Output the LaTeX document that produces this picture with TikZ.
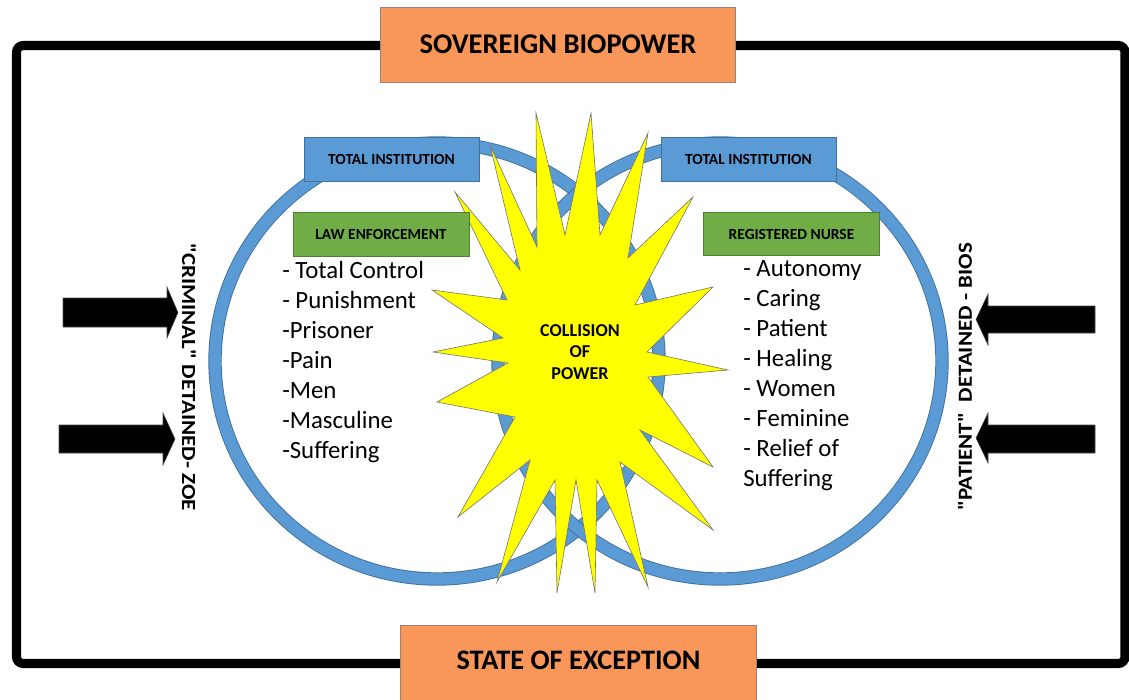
\documentclass[tikz,border=0pt]{standalone}
\usepackage{fontspec}
\setmainfont{Carlito}
\newfontfamily\plaincarlito{Carlito}[FakeStretch=1.15]
\definecolor{ringblue}{HTML}{5B9BD5}
\definecolor{ringedge}{HTML}{41719C}
\definecolor{lawgreen}{HTML}{70AD47}
\definecolor{greenedge}{HTML}{507E32}
\definecolor{orangefill}{HTML}{F9975A}
\definecolor{orangeedge}{HTML}{A08070}
\definecolor{staryellow}{HTML}{FFFF00}
\tikzset{
  ring/.style={draw=ringedge, line width=0.7pt, double=ringblue, double distance=8.6pt},
  frame/.style={draw=black, line width=6.8pt, rounded corners=5pt},
  titlebox/.style={draw=orangeedge, fill=orangefill, line width=0.6pt, inner sep=0pt,
    minimum width=266.5pt, font=\fontsize{21.4}{25}\selectfont\bfseries},
  tibox/.style={draw=ringedge, fill=ringblue, line width=0.7pt, inner sep=0pt,
    minimum width=131.25pt, minimum height=33pt, font=\fontsize{11.6}{13}\selectfont\bfseries},
  rolebox/.style={draw=greenedge, fill=lawgreen, line width=0.7pt, inner sep=0pt,
    minimum width=132pt, minimum height=32.5pt, font=\fontsize{11.6}{13}\selectfont\bfseries},
  listitem/.style={anchor=base west, inner sep=0pt, font=\fontsize{18.6}{22}\selectfont},
  sidelabel/.style={inner sep=0pt, font=\plaincarlito\fontsize{15}{18}\selectfont\bfseries},
  burst/.style={fill=staryellow, draw=black!55, line width=0.45pt},
  blockarrow/.style={fill=black, draw=black!70, line width=0.4pt},
}
\begin{document}
\begin{tikzpicture}[x=0.75pt,y=-0.75pt]
\useasboundingbox (0,0) rectangle (1129,700);
\fill[white] (0,0) rectangle (1129,700);

% outer frame
\draw[frame] (16.5,45.5) rectangle (1125,663.5);

% rings
\draw[ring] (437,361) ellipse [x radius=166.5pt, y radius=163.5pt];
\draw[ring] (720,361) ellipse [x radius=166.5pt, y radius=163.5pt];

% collision starburst
\filldraw[burst] (536,113) -- (565,235) -- (591,113) -- (600,235) -- (648,133) -- (628,258)
  -- (693,197) -- (635,305) -- (713,287) -- (647,352) -- (728,370) -- (648,377)
  -- (713,467) -- (640,430) -- (713,530) -- (620,462) -- (648,587) -- (597,480)
  -- (595,593) -- (576,480) -- (557,593) -- (555,480) -- (497,582) -- (530,460)
  -- (458,517) -- (515,417) -- (437,402) -- (508,363) -- (433,352) -- (503,338)
  -- (432,290) -- (507,300) -- (455,192) -- (520,270) -- (490,145) -- (537,247) -- cycle;
\node[inner sep=0pt, align=center, font=\fontsize{13.6}{16.3}\selectfont\bfseries] (collision)
  at (580,352) {COLLISION\\OF\\POWER};

% title boxes
\node[titlebox, minimum height=56.25pt] (sovereign) at (558,44.5) {SOVEREIGN BIOPOWER};
\node[titlebox, minimum height=66pt] (exception) at (578.5,669) {};
\node[inner sep=0pt, font=\fontsize{21.2}{25}\selectfont\bfseries] (exceptiontext)
  at (578.5,660.5) {STATE OF EXCEPTION};

% institution boxes
\node[tibox] (tileft) at (391.5,159) {TOTAL INSTITUTION};
\node[tibox] (tiright) at (748.5,159) {TOTAL INSTITUTION};
\node[rolebox] (law) at (381,234.5) {LAW ENFORCEMENT};
\node[rolebox] (nurse) at (791.5,234) {REGISTERED NURSE};

% left list
\node[listitem] (l1) at (282,278.5) {- Total Control};
\node[listitem] (l2) at (282,308.5) {- Punishment};
\node[listitem] (l3) at (282,338.5) {-Prisoner};
\node[listitem] (l4) at (282,368.5) {-Pain};
\node[listitem] (l5) at (282,398.5) {-Men};
\node[listitem] (l6) at (282,428.5) {-Masculine};
\node[listitem] (l7) at (282,458) {-Suffering};

% right list
\node[listitem] (r1) at (743,276) {- Autonomy};
\node[listitem] (r2) at (743,306) {- Caring};
\node[listitem] (r3) at (743,336) {- Patient};
\node[listitem] (r4) at (743,366) {- Healing};
\node[listitem] (r5) at (743,396) {- Women};
\node[listitem] (r6) at (743,426) {- Feminine};
\node[listitem] (r7) at (743,456) {- Relief of};
\node[listitem] (r8) at (743,486) {Suffering};

% side labels
\node[sidelabel, rotate=-90] (criminal) at (189,377) {"CRIMINAL" DETAINED- ZOE};
\node[sidelabel, rotate=90] (patient) at (965,377) {"PATIENT"\ \ DETAINED - BIOS};

% block arrows
\filldraw[blockarrow] (63,298) -- (167,298) -- (167,287) -- (178,312.5) -- (167,338)
  -- (167,327) -- (63,327) -- cycle;
\filldraw[blockarrow] (59,425) -- (163,425) -- (163,413) -- (175,439) -- (163,465)
  -- (163,453) -- (59,453) -- cycle;
\filldraw[blockarrow] (1095,306) -- (988,306) -- (988,294) -- (976,319.5) -- (988,345)
  -- (988,333) -- (1095,333) -- cycle;
\filldraw[blockarrow] (1095,425) -- (988,425) -- (988,413) -- (976,438) -- (988,463)
  -- (988,453) -- (1095,453) -- cycle;
\end{tikzpicture}
\end{document}
